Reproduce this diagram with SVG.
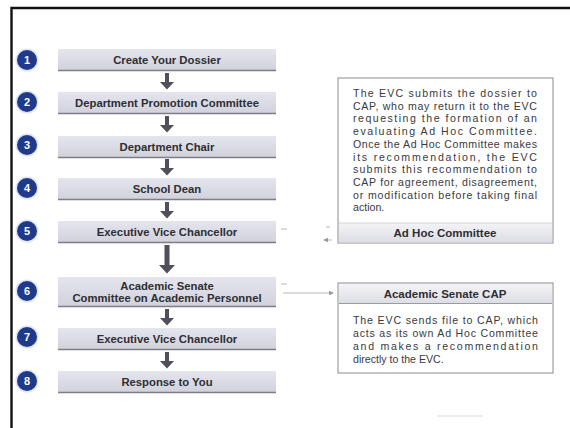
<svg xmlns="http://www.w3.org/2000/svg" width="570" height="428" viewBox="0 0 570 428">
<defs>
<linearGradient id="bx" x1="0" y1="0" x2="0" y2="1">
<stop offset="0" stop-color="#e4e5ed"/>
<stop offset="1" stop-color="#d1d2dc"/>
</linearGradient>
<linearGradient id="hd" x1="0" y1="0" x2="0" y2="1">
<stop offset="0" stop-color="#f4f4f7"/>
<stop offset="1" stop-color="#dcdde4"/>
</linearGradient>
<marker id="ah" markerWidth="6" markerHeight="6" refX="5" refY="3" orient="auto">
<path d="M0,0 L6,3 L0,6 z" fill="#9a9aa0"/>
</marker>
</defs>
<style>
.step rect.b{fill:url(#bx);}
.step line{stroke:#7d7e86;stroke-width:1.6;}
.lbl{font-family:"Liberation Sans",Arial,sans-serif;font-size:11.3px;font-weight:bold;fill:#2e2e33;text-anchor:middle;}
.num circle.o{fill:#dfe4f2;}
.num circle.i{fill:#1f3a8a;}
.num text{font-family:"Liberation Sans",Arial,sans-serif;font-size:11px;font-weight:bold;fill:#ffffff;text-anchor:middle;}
.arr{fill:#505158;}
.card rect.f{fill:#ffffff;stroke:#8b8c92;stroke-width:1;}
.body{font-family:"Liberation Sans",Arial,sans-serif;font-size:10.6px;fill:#3a3a40;}
.hdt{font-family:"Liberation Sans",Arial,sans-serif;font-size:11.5px;font-weight:bold;fill:#2e2e33;text-anchor:middle;}
.con{stroke:#a6a7ad;stroke-width:0.8;fill:none;}
</style>
<rect width="570" height="428" fill="#ffffff"/>
<path d="M11.5,428 L11.5,8 L570,8" fill="none" stroke="#111" stroke-width="2.4"/>

<g id="num1" class="num"><circle class="o" cx="27" cy="60" r="11.5"/><circle class="i" cx="27" cy="60" r="10"/><text x="27" y="64">1</text></g>
<g id="num2" class="num"><circle class="o" cx="27" cy="102" r="11.5"/><circle class="i" cx="27" cy="102" r="10"/><text x="27" y="106">2</text></g>
<g id="num3" class="num"><circle class="o" cx="27" cy="145" r="11.5"/><circle class="i" cx="27" cy="145" r="10"/><text x="27" y="149">3</text></g>
<g id="num4" class="num"><circle class="o" cx="27" cy="188" r="11.5"/><circle class="i" cx="27" cy="188" r="10"/><text x="27" y="192">4</text></g>
<g id="num5" class="num"><circle class="o" cx="27" cy="231" r="11.5"/><circle class="i" cx="27" cy="231" r="10"/><text x="27" y="235">5</text></g>
<g id="num6" class="num"><circle class="o" cx="27" cy="291" r="11.5"/><circle class="i" cx="27" cy="291" r="10"/><text x="27" y="295">6</text></g>
<g id="num7" class="num"><circle class="o" cx="27" cy="337" r="11.5"/><circle class="i" cx="27" cy="337" r="10"/><text x="27" y="341">7</text></g>
<g id="num8" class="num"><circle class="o" cx="27" cy="381" r="11.5"/><circle class="i" cx="27" cy="381" r="10"/><text x="27" y="385">8</text></g>

<g id="step1" class="step"><rect class="b" x="58" y="49" width="218" height="21"/><line x1="58" y1="70.5" x2="276" y2="70.5"/><text class="lbl" x="167" y="64">Create Your Dossier</text></g>
<g id="step2" class="step"><rect class="b" x="58" y="92" width="218" height="21"/><line x1="58" y1="113.5" x2="276" y2="113.5"/><text class="lbl" x="167" y="107">Department Promotion Committee</text></g>
<g id="step3" class="step"><rect class="b" x="58" y="136" width="218" height="21"/><line x1="58" y1="157.5" x2="276" y2="157.5"/><text class="lbl" x="167" y="151">Department Chair</text></g>
<g id="step4" class="step"><rect class="b" x="58" y="178" width="218" height="21"/><line x1="58" y1="199.5" x2="276" y2="199.5"/><text class="lbl" x="167" y="193">School Dean</text></g>
<g id="step5" class="step"><rect class="b" x="58" y="221" width="218" height="21"/><line x1="58" y1="242.5" x2="276" y2="242.5"/><text class="lbl" x="167" y="236">Executive Vice Chancellor</text></g>
<g id="step6" class="step"><rect class="b" x="58" y="277" width="218" height="29"/><line x1="58" y1="306.5" x2="276" y2="306.5"/><text class="lbl" x="167" y="290">Academic Senate</text><text class="lbl" x="167" y="302">Committee on Academic Personnel</text></g>
<g id="step7" class="step"><rect class="b" x="58" y="328" width="218" height="21"/><line x1="58" y1="349.5" x2="276" y2="349.5"/><text class="lbl" x="167" y="343">Executive Vice Chancellor</text></g>
<g id="step8" class="step"><rect class="b" x="58" y="371" width="218" height="21"/><line x1="58" y1="392.5" x2="276" y2="392.5"/><text class="lbl" x="167" y="386">Response to You</text></g>

<g id="adhoc" class="card">
<rect class="f" x="338" y="78" width="215" height="165"/>
<rect x="339" y="223" width="213" height="19.5" fill="url(#hd)"/>
<line x1="339" y1="223" x2="552" y2="223" stroke="#c8c9cf" stroke-width="0.8"/>
<text class="hdt" x="445" y="237">Ad Hoc Committee</text>
<text class="body" x="353" y="97" textLength="184" lengthAdjust="spacing">The EVC submits the dossier to</text>
<text class="body" x="353" y="109.7" textLength="184" lengthAdjust="spacing">CAP, who may return it to the EVC</text>
<text class="body" x="353" y="122.4" textLength="184" lengthAdjust="spacing">requesting the formation of an</text>
<text class="body" x="353" y="135.1" textLength="184" lengthAdjust="spacing">evaluating Ad Hoc Committee.</text>
<text class="body" x="353" y="147.8" textLength="184" lengthAdjust="spacing">Once the Ad Hoc Committee makes</text>
<text class="body" x="353" y="160.5" textLength="184" lengthAdjust="spacing">its recommendation, the EVC</text>
<text class="body" x="353" y="173.2" textLength="184" lengthAdjust="spacing">submits this recommendation to</text>
<text class="body" x="353" y="185.9" textLength="184" lengthAdjust="spacing">CAP for agreement, disagreement,</text>
<text class="body" x="353" y="198.6" textLength="184" lengthAdjust="spacing">or modification before taking final</text>
<text class="body" x="353" y="211.3">action.</text>
</g>

<g id="cap" class="card">
<rect class="f" x="338" y="283" width="215" height="90"/>
<rect x="339" y="284" width="213" height="19.5" fill="url(#hd)"/>
<line x1="339" y1="303.5" x2="552" y2="303.5" stroke="#9a9ba2" stroke-width="1"/>
<text class="hdt" x="445" y="298">Academic Senate CAP</text>
<text class="body" x="353" y="324" textLength="185" lengthAdjust="spacing">The EVC sends file to CAP, which</text>
<text class="body" x="353" y="337" textLength="185" lengthAdjust="spacing">acts as its own Ad Hoc Committee</text>
<text class="body" x="353" y="350" textLength="185" lengthAdjust="spacing">and makes a recommendation</text>
<text class="body" x="353" y="363">directly to the EVC.</text>
</g>

<g id="connectors">
<path class="arr" d="M165,73 h4 v9 h5 l-7,7.5 l-7,-7.5 h5 z"/>
<path class="arr" d="M165,116 h4 v9 h5 l-7,7.5 l-7,-7.5 h5 z"/>
<path class="arr" d="M165,159 h4 v9 h5 l-7,7.5 l-7,-7.5 h5 z"/>
<path class="arr" d="M165,202 h4 v9 h5 l-7,7.5 l-7,-7.5 h5 z"/>
<path class="arr" d="M164.5,245 h5 v20 h5.5 l-8,8.5 l-8,-8.5 h5.5 z"/>
<path class="arr" d="M165,309 h4 v9 h5 l-7,7.5 l-7,-7.5 h5 z"/>
<path class="arr" d="M165,352 h4 v9 h5 l-7,7.5 l-7,-7.5 h5 z"/>
<line class="con" x1="281" y1="229" x2="287" y2="229"/>
<line class="con" x1="326" y1="227" x2="330" y2="227"/>
<line class="con" x1="332" y1="240" x2="324" y2="240" marker-end="url(#ah)"/>
<line class="con" x1="281" y1="284" x2="287" y2="284"/>
<line class="con" x1="283" y1="293" x2="333" y2="293" marker-end="url(#ah)"/>
<line x1="437" y1="416" x2="483" y2="416" stroke="#d5d9e3" stroke-width="1"/>
</g>
</svg>
